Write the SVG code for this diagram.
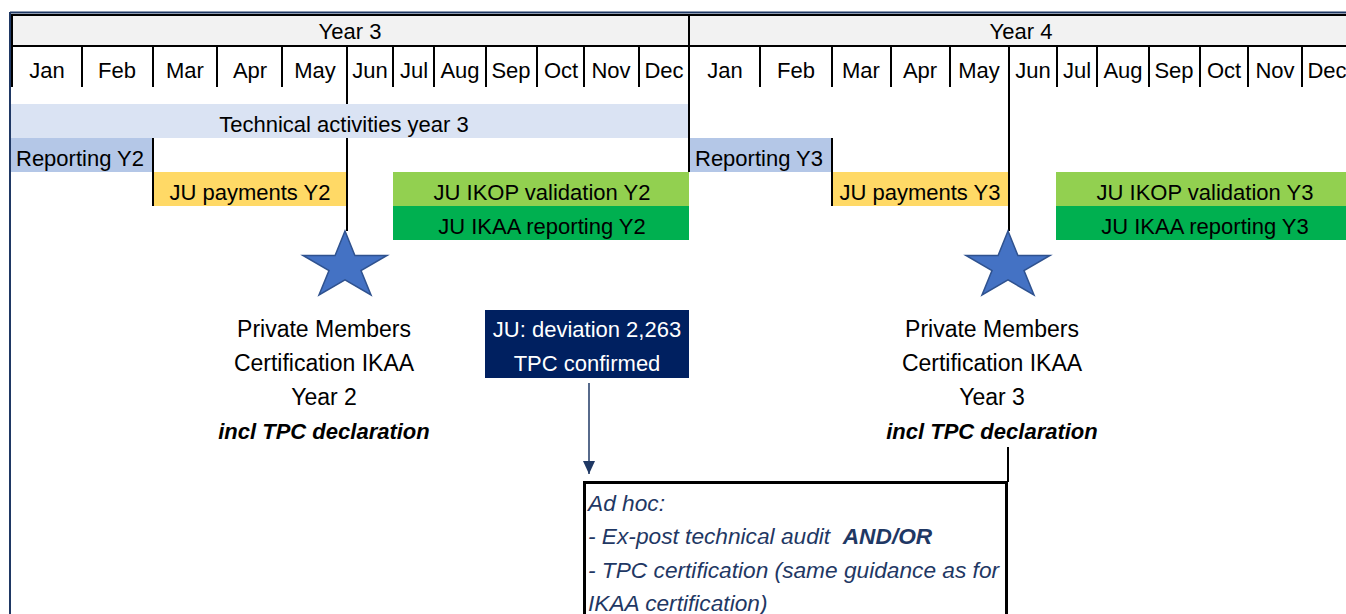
<svg xmlns="http://www.w3.org/2000/svg" width="1346" height="614" viewBox="0 0 1346 614">
<defs>
<style>
text{font-family:"Liberation Sans",Arial,sans-serif;font-size:22px;fill:#000}
.c{text-anchor:middle}
.w{fill:#fff}
.big{font-size:23px}
.bi{font-weight:bold;font-style:italic}
.it{font-style:italic;fill:#1F3864;font-size:22.7px}
.sep{stroke:#000;stroke-width:2;fill:none}
.navy{stroke:#1F3864;stroke-width:2;fill:none}
.star{fill:#4472C4;stroke:#2F528F;stroke-width:1.5}
</style>
<polygon id="starShape" points="0,-35.4 9.9,-10.9 42,-10.9 16,4.2 26,28.6 0,13.5 -26,28.6 -16,4.2 -42,-10.9 -9.9,-10.9"/>
<marker id="arr" viewBox="0 0 13 12" refX="13" refY="6" markerWidth="13" markerHeight="12" markerUnits="userSpaceOnUse" orient="auto">
<path d="M0,0 L13,6 L0,12 Z" fill="#1F3864"/>
</marker>
</defs>
<rect width="1346" height="614" fill="#fff"/>

<g id="header">
<rect x="11" y="14" width="1335" height="32" fill="#F2F2F2"/>
<line class="navy" x1="10" y1="12.5" x2="1346" y2="12.5"/>
<line class="sep" x1="11" y1="15" x2="1346" y2="15"/>
<line class="navy" x1="10" y1="12" x2="10" y2="614"/>
<line class="sep" x1="12" y1="14" x2="12" y2="87"/>
<line class="sep" x1="11" y1="46" x2="1346" y2="46"/>
<line class="sep" x1="689" y1="14" x2="689" y2="87"/>
<text class="c" x="350" y="39">Year 3</text>
<text class="c" x="1021" y="39">Year 4</text>
</g>

<g id="months">
<path class="sep" d="M82,46V87M153,46V87M217,46V87M282,46V87M347,46V87M393,46V87M434,46V87M486,46V87M537,46V87M584,46V87M639,46V87M760,46V87M832,46V87M891,46V87M950,46V87M1009,46V87M1057,46V87M1097,46V87M1149,46V87M1200,46V87M1248,46V87M1302,46V87"/>
<text class="c" x="47" y="78">Jan</text>
<text class="c" x="117" y="78">Feb</text>
<text class="c" x="185" y="78">Mar</text>
<text class="c" x="250" y="78">Apr</text>
<text class="c" x="315" y="78">May</text>
<text class="c" x="370" y="78">Jun</text>
<text class="c" x="414" y="78">Jul</text>
<text class="c" x="460" y="78">Aug</text>
<text class="c" x="511" y="78">Sep</text>
<text class="c" x="561" y="78">Oct</text>
<text class="c" x="611" y="78">Nov</text>
<text class="c" x="664" y="78">Dec</text>
<text class="c" x="725" y="78">Jan</text>
<text class="c" x="796" y="78">Feb</text>
<text class="c" x="861" y="78">Mar</text>
<text class="c" x="920" y="78">Apr</text>
<text class="c" x="979" y="78">May</text>
<text class="c" x="1033" y="78">Jun</text>
<text class="c" x="1077" y="78">Jul</text>
<text class="c" x="1123" y="78">Aug</text>
<text class="c" x="1174" y="78">Sep</text>
<text class="c" x="1224" y="78">Oct</text>
<text class="c" x="1275" y="78">Nov</text>
<text class="c" x="1327" y="78">Dec</text>
</g>

<g id="tech-activities">
<rect x="11" y="104" width="678" height="34" fill="#DAE3F3"/>
<text class="c" x="344" y="132">Technical activities year 3</text>
</g>
<g id="reporting-y2">
<rect x="11" y="138" width="142" height="34" fill="#B4C7E7"/>
<text x="16" y="166">Reporting Y2</text>
</g>
<g id="payments-y2">
<rect x="154" y="172" width="192" height="34" fill="#FFD966"/>
<text class="c" x="250" y="200">JU payments Y2</text>
</g>
<g id="ikop-y2">
<rect x="393" y="172" width="296" height="34" fill="#92D050"/>
<text class="c" x="542" y="200">JU IKOP validation Y2</text>
</g>
<g id="ikaa-y2">
<rect x="393" y="206" width="296" height="34" fill="#00B050"/>
<text class="c" x="542" y="234">JU IKAA reporting Y2</text>
</g>
<g id="reporting-y3">
<rect x="690" y="138" width="141" height="34" fill="#B4C7E7"/>
<text x="695" y="166">Reporting Y3</text>
</g>
<g id="payments-y3">
<rect x="833" y="172" width="175" height="34" fill="#FFD966"/>
<text class="c" x="920" y="200">JU payments Y3</text>
</g>
<g id="ikop-y3">
<rect x="1056" y="172" width="290" height="34" fill="#92D050"/>
<text class="c" x="1205" y="200">JU IKOP validation Y3</text>
</g>
<g id="ikaa-y3">
<rect x="1056" y="206" width="290" height="34" fill="#00B050"/>
<text class="c" x="1205" y="234">JU IKAA reporting Y3</text>
</g>

<g id="connectors">
<path class="sep" d="M153,138V206M689,87V172M832,138V206"/>
<path class="sep" d="M347,87V104M347,138V231M1009,87V231"/>
<path class="sep" d="M1008,447V482"/>
<line x1="589" y1="383" x2="589" y2="474" stroke="#1F3864" stroke-width="1.5" marker-end="url(#arr)"/>
</g>

<g id="cert-y2">
<use href="#starShape" class="star" x="345" y="266.4"/>
<text class="c big" x="324" y="337">Private Members</text>
<text class="c big" x="324" y="371">Certification IKAA</text>
<text class="c big" x="324" y="405">Year 2</text>
<text class="c bi" x="324" y="439">incl TPC declaration</text>
</g>
<g id="cert-y3">
<use href="#starShape" class="star" x="1008" y="266.4"/>
<text class="c big" x="992" y="337">Private Members</text>
<text class="c big" x="992" y="371">Certification IKAA</text>
<text class="c big" x="992" y="405">Year 3</text>
<text class="c bi" x="992" y="439">incl TPC declaration</text>
</g>

<g id="deviation">
<rect x="485" y="310" width="204" height="68" fill="#002060"/>
<text class="c w" x="587" y="337">JU: deviation 2,263</text>
<text class="c w" x="587" y="371">TPC confirmed</text>
</g>

<g id="adhoc">
<rect x="584.5" y="482.5" width="422" height="200" fill="#fff" stroke="#000" stroke-width="3"/>
<text class="it" x="588" y="511">Ad hoc:</text>
<text class="it" x="588" y="544" xml:space="preserve">- Ex-post technical audit  <tspan font-weight="bold">AND/OR</tspan></text>
<text class="it" x="588" y="578">- TPC certification (same guidance as for</text>
<text class="it" x="588" y="611">IKAA certification)</text>
</g>
</svg>
